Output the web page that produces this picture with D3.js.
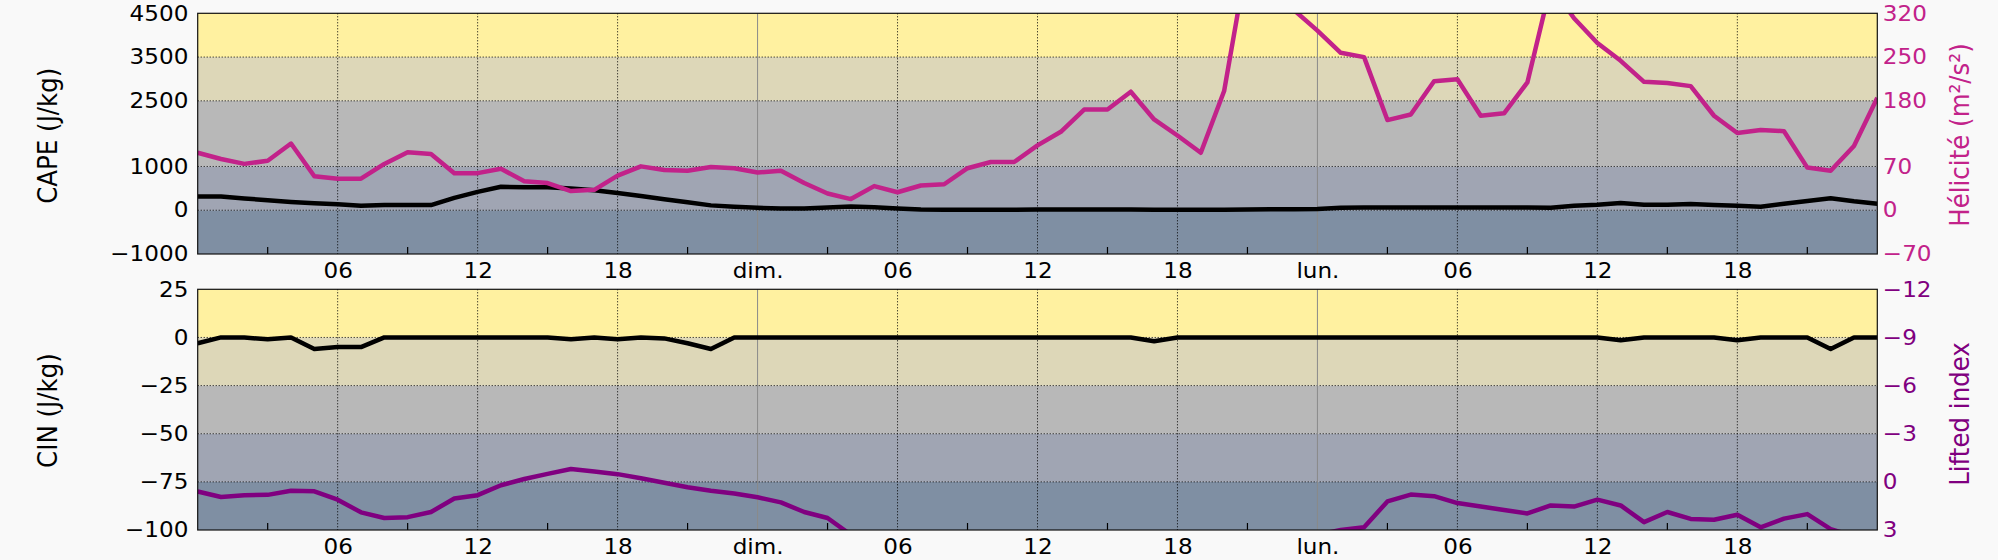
<!DOCTYPE html>
<html>
<head>
<meta charset="utf-8">
<script src="https://cdn.jsdelivr.net/npm/d3@7"></script>
<style>
  body { margin: 0; background: #f9f9f9; }
  svg { display: block; font-family: "DejaVu Sans", sans-serif; }
</style>
</head>
<body>
<div id="chart"></div>
<script>
// hourly values, sat 00h -> tue 00h
var capeVals = [316,316,269,229,190,158,134,103,119,119,119,284,420,
  536,528,528,497,457,394,323,253,182,111,79,56,
  40,40,64,87,71,40,16,10,10,10,10,15,
  15,18,18,15,12,10,10,12,15,20,25,30,
  56,60,64,64,64,64,64,64,64,56,103,125,
  166,127,127,142,119,103,79,150,213,276,205,150];

var heliVals = [94,84,76,81,109,56,52,52,76,95,92,61,61,
  68,48,45,32,34,57,72,66,65,71,69,62,
  65,45,28,19,40,30,41,43,69,79,79,106,
  128,164,164,193,148,122,94,194,410,380,325,292,
  256,249,147,156,210,213,154,158,208,365,312,272,
  243,209,207,202,154,126,131,129,70,65,105,183];

var cinVals = [-3,0,0,-1,0,-6,-5,-5,0,0,0,0,0,
  0,0,0,-1,0,-1,0,-0.5,-3,-6,0,0,
  0,0,0,0,0,0,0,0,0,0,0,0,
  0,0,0,0,-2,0,0,0,0,0,0,0,
  0,0,0,0,0,0,0,0,0,0,0,0,
  -1.5,0,0,0,0,-1.5,0,0,0,-6,0,0];

var liVals = [0.6,0.94,0.83,0.81,0.55,0.59,1.11,1.9,2.25,2.2,1.88,1.04,0.83,
  0.21,-0.18,-0.5,-0.8,-0.65,-0.48,-0.22,0.06,0.34,0.55,0.72,0.96,
  1.28,1.88,2.25,3.3,3.8,4.2,4.5,4.6,4.6,4.5,4.4,4.3,
  4.2,4.3,4.4,4.5,4.4,4.3,4.2,4.0,3.8,3.6,3.4,3.3,
  3.0,2.83,1.22,0.79,0.89,1.32,1.54,1.75,1.97,1.47,1.54,1.11,
  1.47,2.51,1.88,2.31,2.36,2.05,2.83,2.29,2.01,2.94,3.4,3.6];

var capeTicks = [-1000, 0, 1000, 2500, 3500, 4500];
var heliTicks = [-70, 0, 70, 180, 250, 320];
var cinTicks = [-100, -75, -50, -25, 0, 25];
var liTicks = [3, 0, -3, -6, -9, -12];

var xTickHours = [6, 12, 18, 24, 30, 36, 42, 48, 54, 60, 66];
var xTickLabels = ["06", "12", "18", "dim.", "06", "12", "18", "lun.", "06", "12", "18"];
var dayHours = [24, 48];
var minorHours = [3, 9, 15, 21, 27, 33, 39, 45, 51, 57, 63, 69];

var bandColors = ["#7f8fa3", "#a0a5b3", "#b8b8b8", "#ddd7b8", "#fff1a0"];

var heliColor = "#c2228a";
var liColor = "#800080";

var svg = d3.select("#chart")
  .append("svg")
  .attr("width", 1998)
  .attr("height", 560);

var x = d3.scaleLinear().domain([0, 72]).range([197.7, 1877.3]);

function minus(v) { return String(v).replace("-", "\u2212"); }

function drawPanel(id, top, bottom, leftTicks, leftDomain, rightScale, rightTicks, rightColor,
                   leftVals, rightVals, leftLabel, rightLabel, leftLabelY, rightLabelY) {
  var y = d3.scaleLinear().domain(leftDomain).range([bottom, top]);
  var g = svg.append("g");

  svg.append("clipPath").attr("id", id)
    .append("rect")
    .attr("x", x(0)).attr("y", top)
    .attr("width", x(72) - x(0)).attr("height", bottom - top);

  // background bands
  g.selectAll("rect.band")
    .data(d3.pairs(leftTicks))
    .enter().append("rect")
    .attr("class", "band")
    .attr("x", x(0))
    .attr("width", x(72) - x(0))
    .attr("y", function (d) { return y(d[1]); })
    .attr("height", function (d) { return y(d[0]) - y(d[1]); })
    .attr("fill", function (d, i) { return bandColors[i]; });

  // horizontal grid
  g.selectAll("line.hgrid")
    .data(leftTicks.slice(1, -1))
    .enter().append("line")
    .attr("x1", x(0)).attr("x2", x(72))
    .attr("y1", function (d) { return y(d); })
    .attr("y2", function (d) { return y(d); })
    .attr("stroke", "#000").attr("stroke-width", 1)
    .attr("stroke-dasharray", "1,2");

  // vertical grid
  g.selectAll("line.vgrid")
    .data(xTickHours.filter(function (h) { return dayHours.indexOf(h) < 0; }))
    .enter().append("line")
    .attr("x1", function (d) { return x(d); })
    .attr("x2", function (d) { return x(d); })
    .attr("y1", top).attr("y2", bottom)
    .attr("stroke", "#000").attr("stroke-width", 1)
    .attr("stroke-dasharray", "1,2");

  g.selectAll("line.day")
    .data(dayHours)
    .enter().append("line")
    .attr("x1", function (d) { return x(d); })
    .attr("x2", function (d) { return x(d); })
    .attr("y1", top).attr("y2", bottom)
    .attr("stroke", "#8a8a8a").attr("stroke-width", 1);

  // minor ticks inside
  g.selectAll("line.minor")
    .data(minorHours)
    .enter().append("line")
    .attr("x1", function (d) { return x(d); })
    .attr("x2", function (d) { return x(d); })
    .attr("y1", bottom).attr("y2", bottom - 7)
    .attr("stroke", "#000").attr("stroke-width", 1.2);

  var leftLine = d3.line()
    .x(function (d, i) { return x(i); })
    .y(function (d) { return y(d); });
  var rightLine = d3.line()
    .x(function (d, i) { return x(i); })
    .y(function (d) { return rightScale.range([bottom, top])(d); });

  g.append("path")
    .datum(leftVals)
    .attr("clip-path", "url(#" + id + ")")
    .attr("fill", "none").attr("stroke", "#000")
    .attr("stroke-width", 4.5).attr("stroke-linejoin", "round")
    .attr("d", leftLine);

  g.append("path")
    .datum(rightVals)
    .attr("clip-path", "url(#" + id + ")")
    .attr("fill", "none").attr("stroke", rightColor)
    .attr("stroke-width", 4.5).attr("stroke-linejoin", "round")
    .attr("d", rightLine);

  // frame
  g.append("rect")
    .attr("x", x(0)).attr("y", top)
    .attr("width", x(72) - x(0)).attr("height", bottom - top)
    .attr("fill", "none").attr("stroke", "#111").attr("stroke-width", 1.2);

  // axes
  var ax = g.append("g").attr("transform", "translate(" + x(0) + ",0)")
    .call(d3.axisLeft(y).tickValues(leftTicks).tickSize(0).tickPadding(8.5)
      .tickFormat(minus));
  var axR = g.append("g").attr("transform", "translate(" + x(72) + ",0)")
    .call(d3.axisRight(y).tickValues(leftTicks).tickSize(0).tickPadding(5)
      .tickFormat(function (d, i) { return minus(rightTicks[i]); }));
  var axB = g.append("g").attr("transform", "translate(0," + bottom + ")")
    .call(d3.axisBottom(x).tickValues(xTickHours).tickSize(0).tickPadding(9)
      .tickFormat(function (d, i) { return xTickLabels[i]; }));

  [ax, axR, axB].forEach(function (a) {
    a.select(".domain").remove();
    a.selectAll("text")
      .attr("font-size", 21)
      .attr("font-family", "DejaVu Sans")
      .attr("fill", "#000")
      .attr("transform", "scale(1.1,1)");
  });
  axR.selectAll("text").attr("fill", rightColor);

  g.append("text")
    .attr("transform", "translate(56.7," + leftLabelY + ") scale(1.1,1) rotate(-90)")
    .attr("text-anchor", "middle")
    .attr("font-size", 24.5)
    .attr("fill", "#000")
    .text(leftLabel);

  g.append("text")
    .attr("transform", "translate(1969," + rightLabelY + ") scale(1.1,1) rotate(-90)")
    .attr("text-anchor", "middle")
    .attr("font-size", 24.5)
    .attr("fill", rightColor)
    .text(rightLabel);
}

drawPanel("clipTop", 13.3, 254, capeTicks, [-1000, 4500],
  d3.scaleLinear().domain([-70, 320]), heliTicks, heliColor,
  capeVals, heliVals, "CAPE (J/kg)", "Hélicité (m²/s²)", 135.7, 135);

drawPanel("clipBot", 289.3, 530, cinTicks, [-100, 25],
  d3.scaleLinear().domain([3, -12]), liTicks, liColor,
  cinVals, liVals, "CIN (J/kg)", "Lifted index", 410.5, 414);
</script>
</body>
</html>
